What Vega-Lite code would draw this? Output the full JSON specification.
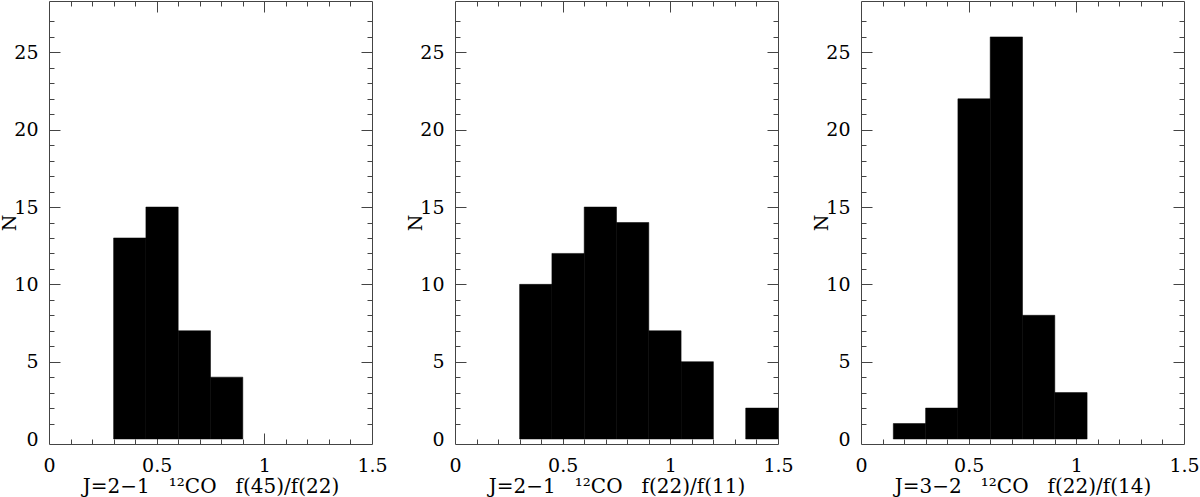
{
  "$schema": "https://vega.github.io/schema/vega-lite/v6.json",
  "padding": {"left": 0, "top": 0, "right": 0, "bottom": 0},
  "spacing": 83,
  "bounds": "flush",
  "datasets": {
    "p1": [
      {"lo": 0.30, "hi": 0.45, "n": 13},
      {"lo": 0.45, "hi": 0.60, "n": 15},
      {"lo": 0.60, "hi": 0.75, "n": 7},
      {"lo": 0.75, "hi": 0.90, "n": 4}
    ],
    "p2": [
      {"lo": 0.30, "hi": 0.45, "n": 10},
      {"lo": 0.45, "hi": 0.60, "n": 12},
      {"lo": 0.60, "hi": 0.75, "n": 15},
      {"lo": 0.75, "hi": 0.90, "n": 14},
      {"lo": 0.90, "hi": 1.05, "n": 7},
      {"lo": 1.05, "hi": 1.20, "n": 5},
      {"lo": 1.35, "hi": 1.50, "n": 2}
    ],
    "p3": [
      {"lo": 0.15, "hi": 0.30, "n": 1},
      {"lo": 0.30, "hi": 0.45, "n": 2},
      {"lo": 0.45, "hi": 0.60, "n": 22},
      {"lo": 0.60, "hi": 0.75, "n": 26},
      {"lo": 0.75, "hi": 0.90, "n": 8},
      {"lo": 0.90, "hi": 1.05, "n": 3}
    ]
  },
  "hconcat": [
    {
      "width": 323, "height": 443,
      "data": {"name": "p1"},
      "resolve": {"axis": {"x": "independent", "y": "independent"}},
      "layer": [
        {
          "mark": {"type": "bar", "color": "black", "stroke": "black", "strokeWidth": 0.5},
          "encoding": {
            "x": {"field": "lo", "type": "quantitative", "scale": {"domain": [0, 1.5], "nice": false, "zero": false},
                  "axis": {"orient": "bottom", "values": [0, 0.5, 1, 1.5], "format": "~g", "ticks": false, "domain": false, "grid": false, "labelPadding": 12, "labelFlush": false, "labelOverlap": false, "title": "J=2−1\u00a0\u00a0 ¹²CO\u00a0\u00a0 f(45)/f(22)", "titlePadding": 1}},
            "x2": {"field": "hi"},
            "y": {"field": "n", "type": "quantitative", "scale": {"domain": [0, 28], "nice": false},
                  "axis": {"orient": "left", "values": [0, 5, 10, 15, 20, 25], "ticks": false, "domain": false, "grid": false, "labelPadding": 11, "labelFlush": false, "labelOverlap": false, "title": "N", "titlePadding": -6, "titleFontSize": 19}},
            "y2": {"datum": 0}
          }
        },
        {
          "mark": {"type": "bar", "opacity": 0},
          "encoding": {
            "x": {"field": "lo", "type": "quantitative", "axis": {"orient": "bottom", "values": [0.1,0.2,0.3,0.4,0.6,0.7,0.8,0.9,1.1,1.2,1.3,1.4], "labels": false, "domain": false, "grid": false, "tickSize": -5, "title": null}},
            "x2": {"field": "hi"},
            "y": {"field": "n", "type": "quantitative", "axis": {"orient": "left", "values": [1,2,3,4,6,7,8,9,11,12,13,14,16,17,18,19,21,22,23,24,26,27], "labels": false, "domain": false, "grid": false, "tickSize": -5, "title": null}}
          }
        },
        {
          "mark": {"type": "bar", "opacity": 0},
          "encoding": {
            "x": {"field": "lo", "type": "quantitative", "axis": {"orient": "top", "values": [0.1,0.2,0.3,0.4,0.6,0.7,0.8,0.9,1.1,1.2,1.3,1.4], "labels": false, "domain": false, "grid": false, "tickSize": -5, "title": null}},
            "x2": {"field": "hi"},
            "y": {"field": "n", "type": "quantitative", "axis": {"orient": "right", "values": [1,2,3,4,6,7,8,9,11,12,13,14,16,17,18,19,21,22,23,24,26,27], "labels": false, "domain": false, "grid": false, "tickSize": -5, "title": null}}
          }
        },
        {
          "mark": {"type": "bar", "opacity": 0},
          "encoding": {
            "x": {"field": "lo", "type": "quantitative", "axis": {"orient": "bottom", "values": [0.5, 1], "labels": false, "domain": false, "grid": false, "tickSize": -11, "title": null}},
            "x2": {"field": "hi"},
            "y": {"field": "n", "type": "quantitative", "axis": {"orient": "left", "values": [5, 10, 15, 20, 25], "labels": false, "domain": false, "grid": false, "tickSize": -11, "title": null}}
          }
        },
        {
          "mark": {"type": "bar", "opacity": 0},
          "encoding": {
            "x": {"field": "lo", "type": "quantitative", "axis": {"orient": "top", "values": [0.5, 1], "labels": false, "domain": false, "grid": false, "tickSize": -11, "title": null}},
            "x2": {"field": "hi"},
            "y": {"field": "n", "type": "quantitative", "axis": {"orient": "right", "values": [5, 10, 15, 20, 25], "labels": false, "domain": false, "grid": false, "tickSize": -11, "title": null}}
          }
        }
      ]
    },
    {
      "width": 323, "height": 443,
      "data": {"name": "p2"},
      "resolve": {"axis": {"x": "independent", "y": "independent"}},
      "layer": [
        {
          "mark": {"type": "bar", "color": "black", "stroke": "black", "strokeWidth": 0.5},
          "encoding": {
            "x": {"field": "lo", "type": "quantitative", "scale": {"domain": [0, 1.5], "nice": false, "zero": false},
                  "axis": {"orient": "bottom", "values": [0, 0.5, 1, 1.5], "format": "~g", "ticks": false, "domain": false, "grid": false, "labelPadding": 12, "labelFlush": false, "labelOverlap": false, "title": "J=2−1\u00a0\u00a0 ¹²CO\u00a0\u00a0 f(22)/f(11)", "titlePadding": 1}},
            "x2": {"field": "hi"},
            "y": {"field": "n", "type": "quantitative", "scale": {"domain": [0, 28], "nice": false},
                  "axis": {"orient": "left", "values": [0, 5, 10, 15, 20, 25], "ticks": false, "domain": false, "grid": false, "labelPadding": 11, "labelFlush": false, "labelOverlap": false, "title": "N", "titlePadding": -6, "titleFontSize": 19}},
            "y2": {"datum": 0}
          }
        },
        {
          "mark": {"type": "bar", "opacity": 0},
          "encoding": {
            "x": {"field": "lo", "type": "quantitative", "axis": {"orient": "bottom", "values": [0.1,0.2,0.3,0.4,0.6,0.7,0.8,0.9,1.1,1.2,1.3,1.4], "labels": false, "domain": false, "grid": false, "tickSize": -5, "title": null}},
            "x2": {"field": "hi"},
            "y": {"field": "n", "type": "quantitative", "axis": {"orient": "left", "values": [1,2,3,4,6,7,8,9,11,12,13,14,16,17,18,19,21,22,23,24,26,27], "labels": false, "domain": false, "grid": false, "tickSize": -5, "title": null}}
          }
        },
        {
          "mark": {"type": "bar", "opacity": 0},
          "encoding": {
            "x": {"field": "lo", "type": "quantitative", "axis": {"orient": "top", "values": [0.1,0.2,0.3,0.4,0.6,0.7,0.8,0.9,1.1,1.2,1.3,1.4], "labels": false, "domain": false, "grid": false, "tickSize": -5, "title": null}},
            "x2": {"field": "hi"},
            "y": {"field": "n", "type": "quantitative", "axis": {"orient": "right", "values": [1,2,3,4,6,7,8,9,11,12,13,14,16,17,18,19,21,22,23,24,26,27], "labels": false, "domain": false, "grid": false, "tickSize": -5, "title": null}}
          }
        },
        {
          "mark": {"type": "bar", "opacity": 0},
          "encoding": {
            "x": {"field": "lo", "type": "quantitative", "axis": {"orient": "bottom", "values": [0.5, 1], "labels": false, "domain": false, "grid": false, "tickSize": -11, "title": null}},
            "x2": {"field": "hi"},
            "y": {"field": "n", "type": "quantitative", "axis": {"orient": "left", "values": [5, 10, 15, 20, 25], "labels": false, "domain": false, "grid": false, "tickSize": -11, "title": null}}
          }
        },
        {
          "mark": {"type": "bar", "opacity": 0},
          "encoding": {
            "x": {"field": "lo", "type": "quantitative", "axis": {"orient": "top", "values": [0.5, 1], "labels": false, "domain": false, "grid": false, "tickSize": -11, "title": null}},
            "x2": {"field": "hi"},
            "y": {"field": "n", "type": "quantitative", "axis": {"orient": "right", "values": [5, 10, 15, 20, 25], "labels": false, "domain": false, "grid": false, "tickSize": -11, "title": null}}
          }
        }
      ]
    },
    {
      "width": 323, "height": 443,
      "data": {"name": "p3"},
      "resolve": {"axis": {"x": "independent", "y": "independent"}},
      "layer": [
        {
          "mark": {"type": "bar", "color": "black", "stroke": "black", "strokeWidth": 0.5},
          "encoding": {
            "x": {"field": "lo", "type": "quantitative", "scale": {"domain": [0, 1.5], "nice": false, "zero": false},
                  "axis": {"orient": "bottom", "values": [0, 0.5, 1, 1.5], "format": "~g", "ticks": false, "domain": false, "grid": false, "labelPadding": 12, "labelFlush": false, "labelOverlap": false, "title": "J=3−2\u00a0\u00a0 ¹²CO\u00a0\u00a0 f(22)/f(14)", "titlePadding": 1}},
            "x2": {"field": "hi"},
            "y": {"field": "n", "type": "quantitative", "scale": {"domain": [0, 28], "nice": false},
                  "axis": {"orient": "left", "values": [0, 5, 10, 15, 20, 25], "ticks": false, "domain": false, "grid": false, "labelPadding": 11, "labelFlush": false, "labelOverlap": false, "title": "N", "titlePadding": -6, "titleFontSize": 19}},
            "y2": {"datum": 0}
          }
        },
        {
          "mark": {"type": "bar", "opacity": 0},
          "encoding": {
            "x": {"field": "lo", "type": "quantitative", "axis": {"orient": "bottom", "values": [0.1,0.2,0.3,0.4,0.6,0.7,0.8,0.9,1.1,1.2,1.3,1.4], "labels": false, "domain": false, "grid": false, "tickSize": -5, "title": null}},
            "x2": {"field": "hi"},
            "y": {"field": "n", "type": "quantitative", "axis": {"orient": "left", "values": [1,2,3,4,6,7,8,9,11,12,13,14,16,17,18,19,21,22,23,24,26,27], "labels": false, "domain": false, "grid": false, "tickSize": -5, "title": null}}
          }
        },
        {
          "mark": {"type": "bar", "opacity": 0},
          "encoding": {
            "x": {"field": "lo", "type": "quantitative", "axis": {"orient": "top", "values": [0.1,0.2,0.3,0.4,0.6,0.7,0.8,0.9,1.1,1.2,1.3,1.4], "labels": false, "domain": false, "grid": false, "tickSize": -5, "title": null}},
            "x2": {"field": "hi"},
            "y": {"field": "n", "type": "quantitative", "axis": {"orient": "right", "values": [1,2,3,4,6,7,8,9,11,12,13,14,16,17,18,19,21,22,23,24,26,27], "labels": false, "domain": false, "grid": false, "tickSize": -5, "title": null}}
          }
        },
        {
          "mark": {"type": "bar", "opacity": 0},
          "encoding": {
            "x": {"field": "lo", "type": "quantitative", "axis": {"orient": "bottom", "values": [0.5, 1], "labels": false, "domain": false, "grid": false, "tickSize": -11, "title": null}},
            "x2": {"field": "hi"},
            "y": {"field": "n", "type": "quantitative", "axis": {"orient": "left", "values": [5, 10, 15, 20, 25], "labels": false, "domain": false, "grid": false, "tickSize": -11, "title": null}}
          }
        },
        {
          "mark": {"type": "bar", "opacity": 0},
          "encoding": {
            "x": {"field": "lo", "type": "quantitative", "axis": {"orient": "top", "values": [0.5, 1], "labels": false, "domain": false, "grid": false, "tickSize": -11, "title": null}},
            "x2": {"field": "hi"},
            "y": {"field": "n", "type": "quantitative", "axis": {"orient": "right", "values": [5, 10, 15, 20, 25], "labels": false, "domain": false, "grid": false, "tickSize": -11, "title": null}}
          }
        }
      ]
    }
  ],
  "config": {
    "view": {"stroke": "#444", "strokeWidth": 1},
    "axis": {
      "labelFont": "DejaVu Serif", "titleFont": "DejaVu Serif",
      "labelFontSize": 19, "titleFontSize": 20,
      "labelColor": "black", "titleColor": "black", "titleFontWeight": "normal",
      "tickColor": "#444", "tickWidth": 1
    }
  }
}
